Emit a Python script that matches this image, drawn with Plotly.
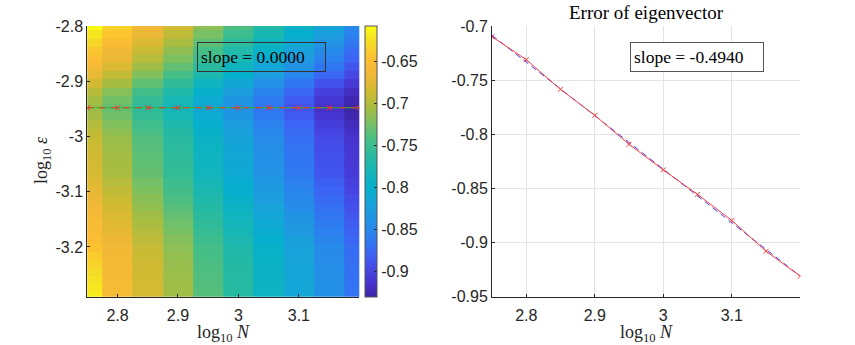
import numpy as np
import plotly.graph_objects as go
from plotly.subplots import make_subplots

# grid axes (cell centres)
log_N = [2.75, 2.80, 2.85, 2.90, 2.95, 3.00, 3.05, 3.10, 3.15, 3.20]
log_eps = [-3.290, -3.275, -3.260, -3.245, -3.231, -3.216, -3.201, -3.186, -3.171,
           -3.156, -3.142, -3.127, -3.112, -3.097, -3.082, -3.067, -3.052, -3.038,
           -3.023, -3.008, -2.993, -2.978, -2.963, -2.948, -2.934, -2.919, -2.904,
           -2.889, -2.874, -2.859, -2.845, -2.830, -2.815, -2.800]

# log10 error, one row per log_eps value (bottom to top), one column per log_N
err_grid = [
    [-0.615, -0.656, -0.684, -0.708, -0.738, -0.764, -0.791, -0.815, -0.841, -0.867],
    [-0.620, -0.656, -0.684, -0.708, -0.738, -0.764, -0.791, -0.815, -0.841, -0.867],
    [-0.624, -0.657, -0.685, -0.709, -0.739, -0.765, -0.792, -0.816, -0.842, -0.868],
    [-0.628, -0.658, -0.686, -0.710, -0.740, -0.766, -0.793, -0.817, -0.843, -0.869],
    [-0.633, -0.659, -0.687, -0.711, -0.741, -0.767, -0.794, -0.818, -0.844, -0.870],
    [-0.638, -0.661, -0.689, -0.713, -0.743, -0.769, -0.796, -0.820, -0.846, -0.871],
    [-0.644, -0.663, -0.691, -0.715, -0.745, -0.771, -0.798, -0.822, -0.848, -0.873],
    [-0.650, -0.667, -0.695, -0.719, -0.749, -0.775, -0.802, -0.826, -0.852, -0.877],
    [-0.654, -0.672, -0.700, -0.724, -0.754, -0.780, -0.807, -0.831, -0.857, -0.881],
    [-0.655, -0.676, -0.704, -0.728, -0.758, -0.784, -0.811, -0.835, -0.861, -0.884],
    [-0.659, -0.680, -0.708, -0.732, -0.762, -0.788, -0.815, -0.839, -0.865, -0.888],
    [-0.664, -0.685, -0.713, -0.737, -0.767, -0.793, -0.820, -0.844, -0.870, -0.892],
    [-0.668, -0.689, -0.717, -0.741, -0.771, -0.797, -0.824, -0.848, -0.874, -0.895],
    [-0.673, -0.694, -0.722, -0.746, -0.776, -0.802, -0.829, -0.853, -0.879, -0.900],
    [-0.677, -0.698, -0.726, -0.750, -0.780, -0.806, -0.833, -0.857, -0.883, -0.903],
    [-0.682, -0.703, -0.731, -0.755, -0.785, -0.811, -0.838, -0.862, -0.888, -0.907],
    [-0.684, -0.705, -0.733, -0.757, -0.787, -0.813, -0.840, -0.864, -0.890, -0.909],
    [-0.685, -0.706, -0.734, -0.758, -0.788, -0.814, -0.841, -0.865, -0.891, -0.910],
    [-0.687, -0.708, -0.736, -0.760, -0.790, -0.816, -0.843, -0.867, -0.893, -0.911],
    [-0.689, -0.710, -0.738, -0.762, -0.792, -0.818, -0.845, -0.869, -0.895, -0.913],
    [-0.693, -0.714, -0.742, -0.766, -0.796, -0.822, -0.849, -0.873, -0.899, -0.917],
    [-0.699, -0.720, -0.748, -0.772, -0.802, -0.828, -0.855, -0.879, -0.905, -0.922],
    [-0.706, -0.727, -0.755, -0.779, -0.809, -0.835, -0.862, -0.886, -0.912, -0.928],
    [-0.710, -0.731, -0.759, -0.783, -0.813, -0.839, -0.866, -0.890, -0.916, -0.931],
    [-0.705, -0.726, -0.754, -0.778, -0.808, -0.834, -0.861, -0.885, -0.911, -0.927],
    [-0.697, -0.718, -0.746, -0.770, -0.800, -0.826, -0.853, -0.877, -0.903, -0.920],
    [-0.684, -0.705, -0.733, -0.757, -0.787, -0.813, -0.840, -0.864, -0.890, -0.909],
    [-0.671, -0.692, -0.720, -0.744, -0.774, -0.800, -0.827, -0.851, -0.877, -0.898],
    [-0.659, -0.680, -0.708, -0.732, -0.762, -0.788, -0.815, -0.839, -0.865, -0.888],
    [-0.649, -0.670, -0.698, -0.722, -0.752, -0.778, -0.805, -0.829, -0.855, -0.879],
    [-0.641, -0.662, -0.690, -0.714, -0.744, -0.770, -0.797, -0.821, -0.847, -0.872],
    [-0.631, -0.652, -0.680, -0.704, -0.734, -0.760, -0.787, -0.811, -0.837, -0.864],
    [-0.621, -0.642, -0.670, -0.694, -0.724, -0.750, -0.777, -0.801, -0.827, -0.855],
    [-0.608, -0.633, -0.661, -0.685, -0.715, -0.741, -0.768, -0.792, -0.818, -0.848],
]

# slice at fixed epsilon (right panel)
slice_log_eps = -2.948
err_eigvec = [-0.7099, -0.7311, -0.7585, -0.7825, -0.8092, -0.8329, -0.8555, -0.8796, -0.9080, -0.9311]

# parula-like colour map
parula = [
    [0.00, "rgb(62,38,168)"], [0.05, "rgb(70,50,205)"], [0.10, "rgb(70,70,228)"],
    [0.16, "rgb(60,100,245)"], [0.22, "rgb(45,125,240)"], [0.28, "rgb(35,145,230)"],
    [0.34, "rgb(25,162,218)"], [0.40, "rgb(5,175,205)"], [0.46, "rgb(20,182,185)"],
    [0.52, "rgb(40,186,160)"], [0.58, "rgb(70,190,135)"], [0.64, "rgb(120,192,100)"],
    [0.70, "rgb(168,189,65)"], [0.76, "rgb(210,186,50)"], [0.82, "rgb(240,184,55)"],
    [0.88, "rgb(252,190,50)"], [0.94, "rgb(245,220,38)"], [1.00, "rgb(249,251,20)"],
]

serif = "Liberation Serif"
sans = "Liberation Sans"
ink = "#262626"

W, H = 855, 345


def fx(px):
    return px / W


def fy(py):
    return 1 - py / H


fig = make_subplots(rows=1, cols=2)

fig.add_trace(go.Heatmap(
    x=log_N, y=log_eps, z=err_grid, colorscale=parula, zmin=-0.9307, zmax=-0.6077,
    colorbar=dict(x=fx(365), xanchor="left", xpad=0, ypad=0, y=fy(161.5), yanchor="middle",
                  len=271 / H, thickness=12, outlinewidth=1, outlinecolor="#555555",
                  tickvals=[-0.9, -0.85, -0.8, -0.75, -0.7, -0.65],
                  ticktext=["-0.9", "-0.85", "-0.8", "-0.75", "-0.7", "-0.65"],
                  ticks="inside", ticklen=3, tickcolor=ink,
                  tickfont=dict(family=sans, size=16, color=ink)),
    showscale=True), row=1, col=1)

# horizontal slice + its fit on the map
p_left = np.polyfit(log_N, [slice_log_eps] * len(log_N), 1)
fig.add_trace(go.Scatter(x=log_N, y=np.polyval(p_left, log_N), mode="lines",
                         line=dict(color="rgb(40,190,40)", width=1)), row=1, col=1)
fig.add_trace(go.Scatter(x=log_N, y=[slice_log_eps] * len(log_N), mode="lines+markers",
                         line=dict(color="rgb(255,40,40)", width=1, dash="6px,6px"),
                         marker=dict(symbol="x-thin", size=5, line=dict(color="rgb(255,40,40)", width=1))),
              row=1, col=1)

# right panel: eigenvector error and its linear fit
p_right = np.polyfit(log_N, err_eigvec, 1)
fig.add_trace(go.Scatter(x=log_N, y=np.polyval(p_right, log_N), mode="lines",
                         line=dict(color="rgb(60,60,255)", width=1, dash="6px,4px")), row=1, col=2)
fig.add_trace(go.Scatter(x=log_N, y=err_eigvec, mode="lines+markers",
                         line=dict(color="rgb(255,60,60)", width=1),
                         marker=dict(symbol="x-thin", size=5, line=dict(color="rgb(255,60,60)", width=1))),
              row=1, col=2)

axis_common = dict(ticks="inside", ticklen=3, tickcolor=ink, showline=True, linecolor=ink,
                   linewidth=1, tickfont=dict(family=sans, size=16, color=ink), zeroline=False)

fig.update_layout(
    width=W, height=H, showlegend=False,
    margin=dict(l=0, r=0, t=0, b=0, autoexpand=False),
    paper_bgcolor="white", plot_bgcolor="white",
    xaxis=dict(domain=[fx(87.3), fx(359.3)], range=[2.75, 3.2],
               tickvals=[2.8, 2.9, 3.0, 3.1], ticktext=["2.8", "2.9", "3", "3.1"],
               showgrid=False, ticklabelstandoff=4, **axis_common),
    yaxis=dict(domain=[fy(296.7), fy(26)], range=[-3.29, -2.80],
               tickvals=[-3.2, -3.1, -3.0, -2.9, -2.8], ticktext=["-3.2", "-3.1", "-3", "-2.9", "-2.8"],
               showgrid=False, **axis_common),
    xaxis2=dict(domain=[fx(492), fx(800.3)], range=[2.75, 3.2],
                tickvals=[2.8, 2.9, 3.0, 3.1], ticktext=["2.8", "2.9", "3", "3.1"],
                showgrid=True, gridcolor="#E3E3E3", gridwidth=1, ticklabelstandoff=4, **axis_common),
    yaxis2=dict(domain=[fy(296.7), fy(26)], range=[-0.95, -0.7],
                tickvals=[-0.95, -0.9, -0.85, -0.8, -0.75, -0.7],
                ticktext=["-0.95", "-0.9", "-0.85", "-0.8", "-0.75", "-0.7"],
                showgrid=True, gridcolor="#E3E3E3", gridwidth=1, **axis_common),
)

annotations = [
    # axis labels
    dict(text="log<sub>10</sub> <i>N</i>", x=fx(223), y=fy(333)),
    dict(text="log<sub>10</sub> <i>N</i>", x=fx(646), y=fy(333)),
    dict(text="log<sub>10</sub> <i>ε</i>", x=fx(42), y=fy(160), textangle=-90),
]
for a in annotations:
    a.update(xref="paper", yref="paper", xanchor="center", yanchor="middle", showarrow=False,
             font=dict(family=serif, size=18, color=ink))

annotations += [
    # title of right panel
    dict(text="Error of eigenvector", x=fx(646), y=fy(12.5), xref="paper", yref="paper",
         xanchor="center", yanchor="middle", showarrow=False,
         font=dict(family=serif, size=19, color="black")),
    # slope boxes
    dict(text="slope = 0.0000", x=fx(197.3), y=fy(41.7), xref="paper", yref="paper",
         xanchor="left", yanchor="top", showarrow=False, align="left",
         font=dict(family=serif, size=17.5, color="black"),
         bordercolor="#333333", borderwidth=1, borderpad=3, width=121, height=22),
    dict(text="slope = -0.4940", x=fx(630), y=fy(41.7), xref="paper", yref="paper",
         xanchor="left", yanchor="top", showarrow=False, align="left",
         font=dict(family=serif, size=17.5, color="black"), bgcolor="white",
         bordercolor="#555555", borderwidth=1, borderpad=3, width=126, height=22),
]
fig.update_layout(annotations=annotations)

# drop the page's default body margin so the figure sits at the window corner
fig.write_html("out.html", config={"displayModeBar": False},
               post_script="document.body.style.margin = '0px';")
